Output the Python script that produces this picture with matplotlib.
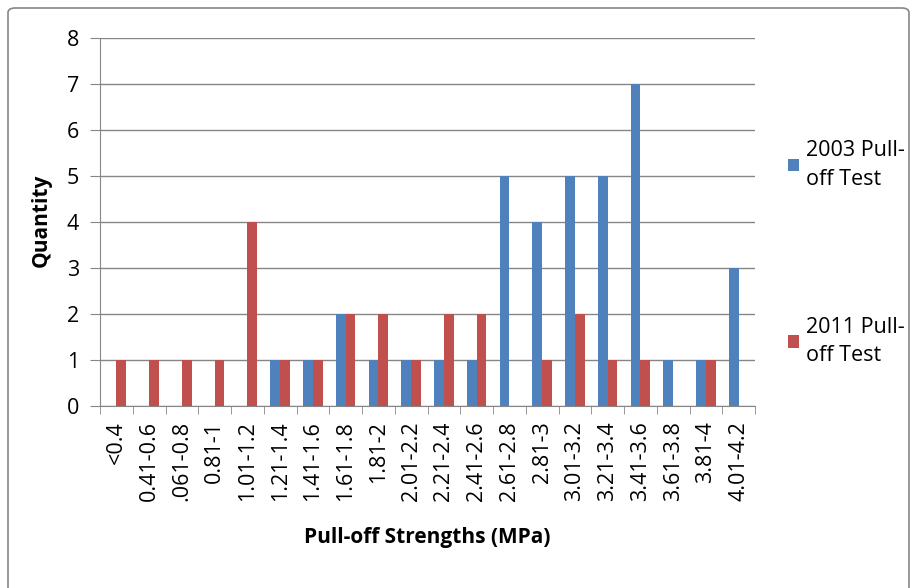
import numpy as np
import matplotlib.pyplot as plt
from matplotlib.patches import FancyBboxPatch

categories = ["<0.4", "0.41-0.6", ".061-0.8", "0.81-1", "1.01-1.2", "1.21-1.4",
              "1.41-1.6", "1.61-1.8", "1.81-2", "2.01-2.2", "2.21-2.4", "2.41-2.6",
              "2.61-2.8", "2.81-3", "3.01-3.2", "3.21-3.4", "3.41-3.6", "3.61-3.8",
              "3.81-4", "4.01-4.2"]
test_2003 = [0, 0, 0, 0, 0, 1, 1, 2, 1, 1, 1, 1, 5, 4, 5, 5, 7, 1, 1, 3]
test_2011 = [1, 1, 1, 1, 4, 1, 1, 2, 2, 1, 2, 2, 0, 1, 2, 1, 1, 0, 1, 0]

plt.rcParams['font.family'] = ['Open Sans', 'DejaVu Sans']

fig = plt.figure(figsize=(9.15, 5.88), dpi=100)
fig.patches.append(FancyBboxPatch((8 / 915, -0.05), 901 / 915, 1 - 8 / 588 + 0.05,
                                  boxstyle="round,pad=0,rounding_size=0.008",
                                  transform=fig.transFigure, fill=False,
                                  edgecolor='#868686', linewidth=1.2))
ax = fig.add_axes([100 / 915, 1 - 406 / 588, 655 / 915, 368 / 588])

x = np.arange(len(categories))
w = 0.3
ax.bar(x - w / 2, test_2003, w, color='#4F81BD', label='2003 Pull-\noff Test', zorder=3)
ax.bar(x + w / 2, test_2011, w, color='#C0504D', label='2011 Pull-\noff Test', zorder=3)

ax.set_xlim(-0.5, len(categories) - 0.5)
ax.set_ylim(0, 8)
ax.set_yticks(range(0, 9))
ax.yaxis.grid(True, color='#868686', linewidth=1, zorder=0)
ax.set_axisbelow(True)

ax.set_xticks(x)
ax.set_xticklabels(categories, rotation=90, fontsize=15.5)
ax.set_xticks(np.arange(-0.5, len(categories)), minor=True)
ax.tick_params(axis='x', which='major', length=0, pad=11)
ax.tick_params(axis='x', which='minor', length=6, color='#868686')
ax.tick_params(axis='y', length=7, color='#868686', labelsize=15.5, pad=8)

for s in ['top', 'right']:
    ax.spines[s].set_visible(False)
for s in ['left', 'bottom']:
    ax.spines[s].set_color('#868686')

# fixed label positions (axes coords)
ax.set_ylabel('Quantity', fontsize=15, fontweight='bold', va='center')
ax.yaxis.set_label_coords(-0.09, 0.505)
ax.set_xlabel('Pull-off Strengths (MPa)', fontsize=15, fontweight='bold', va='center')
ax.xaxis.set_label_coords(0.5, -0.357)

leg = ax.legend(loc='upper left', bbox_to_anchor=(769 / 915, 1 - 121 / 588),
                bbox_transform=fig.transFigure, frameon=False, fontsize=15.5,
                labelspacing=5.9, handlelength=0.5, handleheight=0.5,
                handletextpad=0.3)
for t in leg.get_texts():
    t.set_linespacing(1.45)

fig.savefig('out.png', dpi=100)
